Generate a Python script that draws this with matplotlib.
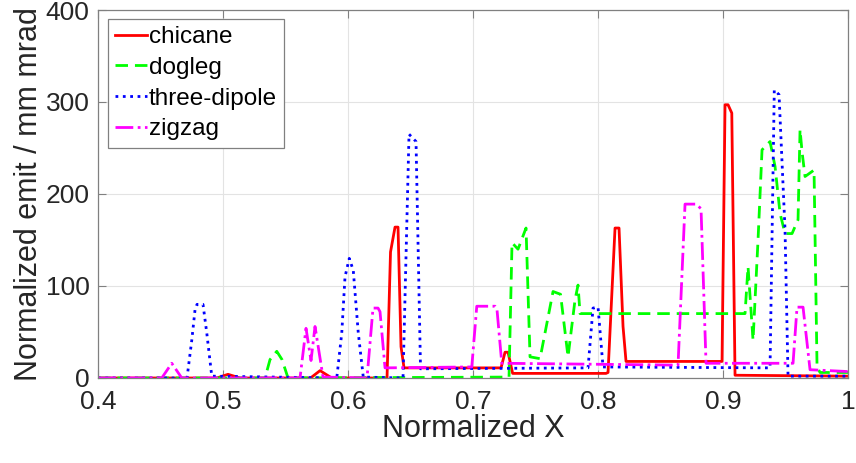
import matplotlib
matplotlib.use("Agg")
import matplotlib.pyplot as plt

plt.rcParams['font.family'] = ['Liberation Sans', 'DejaVu Sans']

# emittance traces along the normalized beamline coordinate
chicane_x = [0.40, 0.495, 0.504, 0.5136, 0.570, 0.5776, 0.587, 0.6312, 0.634, 0.6376,
             0.640, 0.6424, 0.6448, 0.7224, 0.7256, 0.728, 0.7317, 0.8064, 0.808,
             0.8136, 0.8168, 0.820, 0.8224, 0.8992, 0.9016, 0.904, 0.907, 0.9096, 1.0]
chicane_y = [0, 0, 4, 0, 0, 8, 0, 0, 137, 164,
             164, 34, 11, 11, 28, 28, 5, 5, 6,
             163, 163, 56, 18, 18, 297, 297, 288, 3, 2]

dogleg_x = [0.40, 0.5336, 0.5376, 0.543, 0.5472, 0.552, 0.7288, 0.7312, 0.736, 0.7424,
            0.7456, 0.7536, 0.7576, 0.764, 0.770, 0.776, 0.7816, 0.784, 0.7856,
            0.9176, 0.920, 0.924, 0.928, 0.9312, 0.9376, 0.9416, 0.9456, 0.9496,
            0.9552, 0.960, 0.9616, 0.9632, 0.9656, 0.9728, 0.9752, 0.9776, 1.0]
dogleg_y = [0, 0, 20, 29, 20, 0, 1, 147, 140, 163,
            23, 21, 49, 94, 91, 23, 85, 101, 70,
            70, 121, 41, 150, 248, 257, 230, 179, 157,
            157, 172, 270, 246, 219, 226, 12, 6, 6]

three_dipole_x = [0.40, 0.4712, 0.475, 0.4776, 0.4792, 0.484, 0.487, 0.491, 0.591,
                  0.595, 0.5976, 0.601, 0.6042, 0.6082, 0.6122, 0.644, 0.6488,
                  0.6544, 0.658, 0.792, 0.796, 0.800, 0.804, 0.9376, 0.941, 0.9448,
                  0.9496, 0.952, 1.0]
three_dipole_y = [0, 0, 41, 74, 80, 80, 49, 2, 0,
                  49, 110, 130, 117, 49, 1, 0, 265,
                  257, 10, 11, 76, 77, 12, 11, 313, 308,
                  161, 2, 2]

zigzag_x = [0.40, 0.451, 0.459, 0.467, 0.5616, 0.5664, 0.5704, 0.5736, 0.580, 0.6152,
            0.620, 0.624, 0.6256, 0.6296, 0.699, 0.703, 0.7176, 0.7192, 0.723,
            0.864, 0.8696, 0.8784, 0.8824, 0.8864, 0.956, 0.9592, 0.964, 0.9696, 1.0]
zigzag_y = [0, 0, 16, 0, 0, 54, 19, 56, 1, 0,
            76, 76, 72, 11, 12, 78, 78, 74, 16,
            14, 189, 189, 184, 16, 16, 77, 77, 9, 7]

fig = plt.figure(figsize=(8.56, 4.63), dpi=100)
ax = fig.add_axes([0.1145, 0.1836, 0.8762, 0.7948])

ax.plot(chicane_x, chicane_y, '-', color='#ff0000', lw=2, label='chicane')
ax.plot(dogleg_x, dogleg_y, color='#00ff00', lw=2, dashes=(4.5, 2.5), label='dogleg')
ax.plot(three_dipole_x, three_dipole_y, ':', color='#0000ff', lw=2, label='three-dipole')
ax.plot(zigzag_x, zigzag_y, '-.', color='#ff00ff', lw=2, label='zigzag')

ax.set_xlim(0.4, 1.0)
ax.set_ylim(0, 400)
ax.set_xticks([0.4, 0.5, 0.6, 0.7, 0.8, 0.9, 1.0])
ax.set_xticklabels(['0.4', '0.5', '0.6', '0.7', '0.8', '0.9', '1'])
ax.set_yticks([0, 100, 200, 300, 400])
ax.grid(True, color='#e3e3e3', lw=0.8)
ax.set_axisbelow(True)
ax.tick_params(direction='in', length=6, width=0.8, top=True, right=True,
               labelsize=19, colors='#808080', labelcolor='#262626')
ax.tick_params(axis='x', pad=9)
ax.tick_params(axis='y', pad=6)
for s in ax.spines.values():
    s.set_color('#808080')
    s.set_linewidth(0.9)

ax.set_xlabel('Normalized X', fontsize=22, color='#262626', labelpad=0)
ax.set_ylabel('Normalized emit / mm mrad', fontsize=22, color='#262626', labelpad=1)

leg = ax.legend(loc='upper left', bbox_to_anchor=(0.013, 0.976), borderaxespad=0,
                fontsize=17.5, handlelength=1.3, handletextpad=0.1,
                labelspacing=0.36, borderpad=0.3, fancybox=False, framealpha=1)
leg.get_frame().set_edgecolor('#808080')
leg.get_frame().set_linewidth(0.9)

fig.savefig('out.png', dpi=100)
